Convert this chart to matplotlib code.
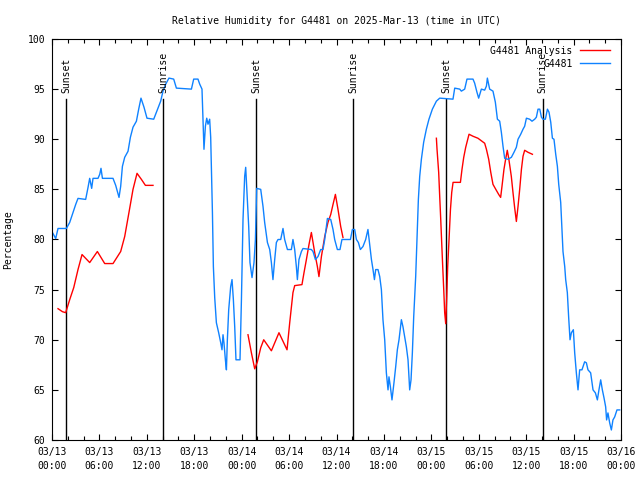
import matplotlib
matplotlib.use('Agg')
from matplotlib import pyplot as plt
import numpy as np

# G4481 observed relative humidity, hours after 2025-03-13 00:00 UTC
obs_hours = [0.05, 0.47, 0.76, 1.82, 2.24, 2.66, 3.00, 3.29, 4.26, 4.56, 4.77, 5.02, 5.19, 5.82,
             6.04, 6.20, 6.38, 7.72, 8.06, 8.48, 8.69, 8.91, 9.20, 9.62, 9.92, 10.25, 10.68, 10.97,
             11.26, 11.64, 12.02, 12.87, 13.12, 13.41, 13.75, 14.05, 14.39, 14.80, 15.40, 15.74,
             17.64, 17.93, 18.47, 18.69, 18.98, 19.23, 19.41, 19.58, 19.74, 19.95, 20.08, 20.17,
             20.30, 20.42, 20.59, 20.80, 21.09, 21.35, 21.51, 21.64, 21.76, 21.94, 22.07, 22.19,
             22.36, 22.61, 22.78, 22.95, 23.12, 23.28, 23.79, 23.97, 24.17, 24.38, 24.51, 24.67,
             24.89, 25.05, 25.31, 25.56, 25.74, 25.90, 26.41, 26.70, 26.91, 27.26, 27.55, 27.76,
             27.96, 28.18, 28.39, 28.60, 28.94, 29.23, 29.44, 29.79, 30.29, 30.49, 30.71, 30.92,
             31.05, 31.25, 31.56, 31.76, 32.82, 33.03, 33.33, 33.66, 34.00, 34.29, 34.51, 34.85,
             35.27, 35.56, 35.77, 36.11, 36.44, 36.69, 37.76, 38.01, 38.30, 38.52, 38.77, 39.02,
             39.35, 39.69, 39.98, 40.20, 40.42, 40.62, 40.80, 40.96, 41.25, 41.47, 41.68, 41.88,
             42.10, 42.31, 42.52, 42.64, 42.82, 43.02, 43.27, 43.49, 43.70, 43.91, 44.21, 44.41,
             44.63, 44.84, 45.05, 45.26, 45.43, 45.60, 45.77, 46.02, 46.19, 46.36, 46.53, 46.74,
             47.03, 47.37, 47.70, 48.13, 48.64, 49.06, 50.74, 50.96, 51.59, 51.80, 52.22, 52.51,
             53.27, 53.48, 53.77, 53.99, 54.33, 54.75, 54.97, 55.09, 55.38, 55.80, 56.10, 56.36,
             56.65, 56.86, 57.07, 57.28, 57.70, 58.13, 58.46, 58.76, 58.97, 59.31, 59.60, 59.81,
             60.03, 60.44, 60.74, 61.08, 61.29, 61.50, 61.72, 61.93, 62.13, 62.43, 62.69, 62.89,
             63.11, 63.32, 63.52, 63.74, 63.95, 64.12, 64.37, 64.54, 64.66, 64.88, 65.00, 65.21,
             65.38, 65.55, 65.72, 65.97, 66.14, 66.35, 66.56, 66.77, 67.06, 67.40, 67.62, 67.82,
             68.16, 68.46, 68.76, 69.01, 69.21, 69.43, 69.64, 69.85, 70.06, 70.18, 70.35, 70.57,
             70.78, 70.98, 71.20, 71.49, 71.83]
obs_rh = [80.7, 80.1, 81.1, 81.1, 81.7, 82.7, 83.5, 84.1, 84.0, 85.2, 86.1, 85.1, 86.1, 86.1,
          86.5, 87.1, 86.1, 86.1, 85.4, 84.2, 85.3, 87.3, 88.2, 88.8, 90.2, 91.2, 91.8, 93.0,
          94.1, 93.2, 92.1, 92.0, 92.5, 93.1, 93.8, 94.8, 95.5, 96.1, 96.0, 95.1,
          95.0, 96.0, 96.0, 95.5, 95.0, 89.0, 91.3, 92.1, 91.5, 92.0, 90.2, 87.0,
          82.7, 77.3, 74.2, 71.7, 70.7, 69.7, 69.0, 70.5, 69.7, 68.0, 67.0, 70.0,
          73.0, 75.3, 76.0, 74.0, 71.3, 68.0, 68.0, 74.0, 82.0, 86.3, 87.2, 84.7,
          81.3, 77.7, 76.2, 77.7, 80.0, 85.1, 85.0, 83.3, 81.7, 79.7, 79.0, 77.7,
          76.0, 78.0, 79.7, 80.0, 80.0, 81.1, 80.0, 79.0, 79.0, 80.0, 79.0, 77.3,
          76.0, 78.0, 78.8, 79.1, 79.0, 78.8, 78.0, 78.3, 79.0, 79.0, 80.0, 82.1,
          82.0, 81.0, 80.0, 79.0, 79.0, 80.0, 80.0, 81.0, 81.0, 80.0, 79.7, 79.0,
          79.3, 80.0, 81.0, 79.5, 78.0, 77.0, 76.0, 77.0, 77.0, 76.3, 75.0, 72.0,
          70.0, 66.7, 65.0, 66.3, 65.3, 64.0, 65.7, 67.3, 69.0, 70.0, 72.0, 71.3,
          70.3, 69.3, 68.0, 65.0, 66.0, 68.7, 72.3, 76.3, 80.0, 84.0, 86.3, 88.0,
          89.7, 91.0, 92.0, 93.0, 93.8, 94.1, 94.0, 95.1, 95.0, 94.8, 95.0, 96.0,
          96.0, 95.6, 94.7, 94.1, 95.0, 94.9, 95.3, 96.1, 95.0, 94.8, 93.7, 92.0,
          91.8, 90.7, 89.3, 88.1, 88.0, 88.2, 88.7, 89.2, 90.0, 90.5, 91.0, 91.3,
          92.1, 92.0, 91.8, 92.0, 92.2, 93.0, 93.0, 92.2, 92.0, 92.0, 93.0, 92.7,
          91.7, 90.1, 90.0, 88.5, 87.3, 85.5, 83.7, 80.7, 78.8, 77.3, 76.0, 74.7,
          72.2, 70.0, 70.7, 71.0, 68.7, 66.7, 65.0, 67.0, 67.0, 67.8, 67.7, 67.0,
          66.7, 65.0, 64.7, 64.0, 65.0, 66.0, 65.0, 64.2, 63.3, 62.0, 62.7, 61.7,
          61.0, 62.0, 62.3, 63.0, 63.0]

# G4481 analysis (gaps as nan)
ana_hours = [0.76, 1.32, 1.73, 2.24, 2.75, 3.29, 3.80, 4.77, 5.74, 6.67, 7.72, 8.69, 9.20, 9.74,
             10.25, 10.76, 11.31, 11.82, 12.78, 18.0,
             24.80, 25.23, 25.65, 25.99, 26.41, 26.79, 27.76, 28.72, 29.74, 30.08, 30.49, 30.71,
             31.63, 31.89, 32.19, 32.52, 32.82, 33.24, 33.58, 33.78, 34.09, 34.51, 34.92, 35.27,
             35.56, 35.86, 36.19, 36.53, 36.82, 42.0,
             48.64, 48.72, 48.93, 49.06, 49.19, 49.31, 49.44, 49.57, 49.69, 49.82, 49.95, 50.07,
             50.24, 50.42, 50.58, 50.75, 51.68, 51.88, 52.10, 52.35, 52.77, 53.27, 53.90, 54.75,
             54.97, 55.26, 55.52, 55.80, 56.23, 56.52, 56.77, 56.94, 57.19, 57.40, 57.61, 57.81,
             58.12, 58.33, 58.54, 58.76, 58.97, 59.18, 59.40, 59.60, 59.81, 60.23, 60.79]
ana_rh = [73.1, 72.8, 72.7, 74.0, 75.2, 77.0, 78.5, 77.7, 78.8, 77.6, 77.6, 78.8, 80.3, 82.7,
          85.0, 86.6, 86.0, 85.4, 85.4, np.nan,
          70.5, 68.7, 67.1, 67.8, 69.2, 70.0, 68.9, 70.7, 69.0, 71.7, 74.7, 75.4,
          75.5, 76.7, 78.0, 79.5, 80.7, 78.7, 77.3, 76.3, 78.3, 80.3, 81.7, 82.5,
          83.5, 84.5, 83.0, 81.3, 80.2, np.nan,
          90.1, 89.0, 86.7, 84.3, 82.0, 79.7, 77.3, 75.0, 72.7, 71.6, 74.3, 77.3,
          80.0, 83.0, 84.7, 85.7, 85.7, 87.0, 88.2, 89.2, 90.5, 90.3, 90.1, 89.6,
          89.0, 88.0, 86.7, 85.5, 84.9, 84.5, 84.2, 85.3, 87.0, 88.0, 88.9, 88.0,
          86.3, 84.7, 83.2, 81.8, 83.3, 85.0, 87.0, 88.3, 88.9, 88.7, 88.5]

sun_hours = [1.78, 14.05, 25.83, 38.08, 49.87, 62.08]
sun_labels = ['Sunset', 'Sunrise', 'Sunset', 'Sunrise', 'Sunset', 'Sunrise']

tick_hours = np.arange(0, 73, 6)
tick_labels = ['03/13\n00:00', '03/13\n06:00', '03/13\n12:00', '03/13\n18:00',
               '03/14\n00:00', '03/14\n06:00', '03/14\n12:00', '03/14\n18:00',
               '03/15\n00:00', '03/15\n06:00', '03/15\n12:00', '03/15\n18:00',
               '03/16\n00:00']

plt.rcParams['font.family'] = 'DejaVu Sans Mono'
plt.rcParams['font.size'] = 7

fig = plt.figure(figsize=(6.4, 4.8), dpi=100)
ax = fig.add_axes([52/640, 40/480, 569/640, 401/480])

for t, lab in zip(sun_hours, sun_labels):
    ax.plot([t, t], [60, 94], color='black', lw=1.0, zorder=1)
    ax.text(t, 94.6, lab, rotation=90, ha='center', va='bottom', fontsize=7)

ax.plot(ana_hours, ana_rh, color='#ff0000', lw=1.0, label='G4481 Analysis', zorder=2)
ax.plot(obs_hours, obs_rh, color='#0f82ff', lw=1.0, label='G4481', zorder=2)

ax.set_xlim(0, 72)
ax.set_ylim(60, 100)
ax.set_xticks(tick_hours)
ax.set_xticklabels(tick_labels, linespacing=1.45)
ax.set_xticks(np.arange(0, 73, 2), minor=True)
ax.set_yticks(np.arange(60, 101, 5))
ax.tick_params(which='both', direction='in', top=True, right=True, width=0.8)
ax.tick_params(which='major', length=4.5, pad=5)
ax.tick_params(which='minor', length=3)
for s in ax.spines.values():
    s.set_linewidth(0.8)

ax.set_ylabel('Percentage', labelpad=10)
ax.set_title('Relative Humidity for G4481 on 2025-Mar-13 (time in UTC)', fontsize=7, pad=11)

ax.legend(loc='upper right', bbox_to_anchor=(0.992, 1.0), frameon=False, markerfirst=False,
          handlelength=3.0, labelspacing=0.3, borderaxespad=0.3, handletextpad=0.8, fontsize=7)

fig.savefig('out.png', dpi=100)
